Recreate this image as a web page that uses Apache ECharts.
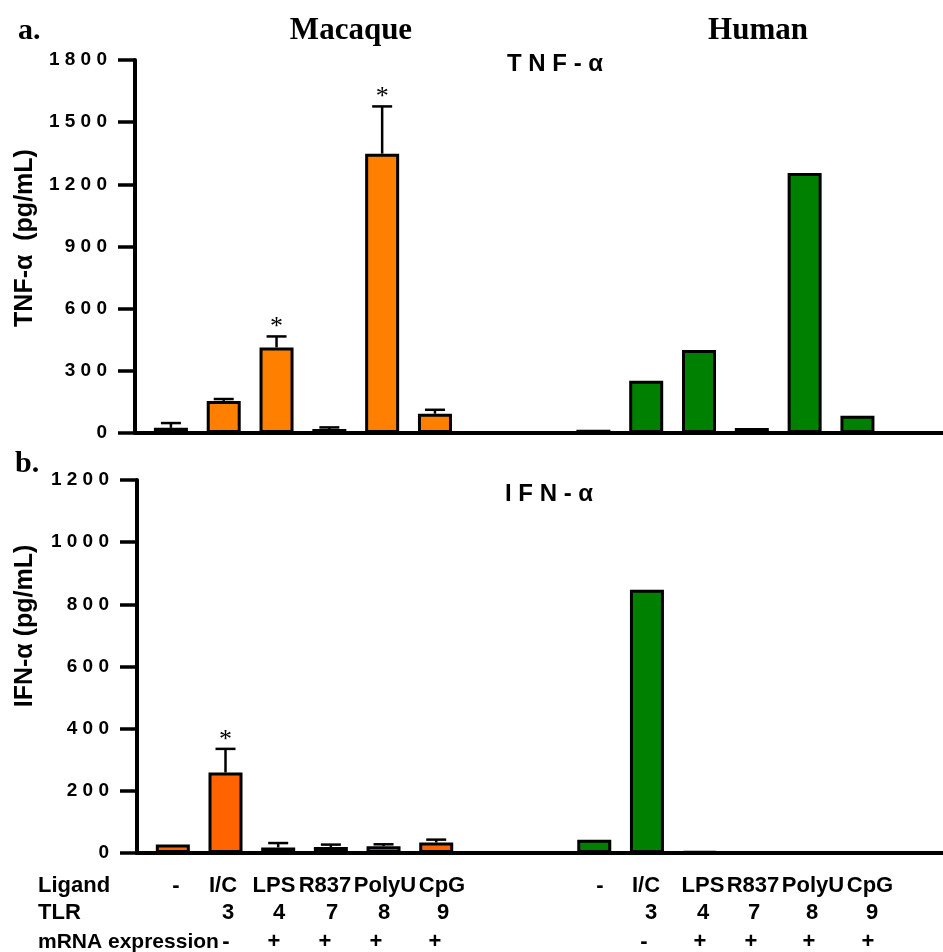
<!DOCTYPE html>
<html>
<head>
<meta charset="utf-8">
<script src="https://cdn.jsdelivr.net/npm/echarts@6/dist/echarts.min.js"></script>
<style>
html,body{margin:0;padding:0;background:#fff;}
#c{width:943px;height:952px;}
</style>
</head>
<body>
<div id="c"></div>
<script>
// ---------- DATA ----------
const ligands = ['-', 'I/C', 'LPS', 'R837', 'PolyU', 'CpG'];
const tlrs = ['', '3', '4', '7', '8', '9'];
const mrnaMacaque = ['', '-', '+', '+', '+', '+'];
const mrnaHuman = ['', '-', '+', '+', '+', '+'];
const xMacaque = [0, 1, 2, 3, 4, 5];
const xHuman = [8, 9, 10, 11, 12, 13];

const tnfMacaque = [25, 155, 413, 19, 1348, 93];
const tnfMacaqueErr = [23, 9, 53, 8, 228, 19];
const tnfMacaqueSig = [0, 0, 1, 0, 1, 0];
const tnfHuman = [16, 252, 400, 24, 1255, 83];

const ifnMacaque = [27, 259, 18, 19, 22, 34];
const ifnMacaqueErr = [0, 76, 14, 8, 6, 9];
const ifnMacaqueSig = [0, 1, 0, 0, 0, 0];
const ifnHuman = [43, 847, 5, 0, 0, 0];

const tnfTicks = [0, 1800, 300];
const ifnTicks = [0, 1200, 200];

// ---------- STYLE / LAYOUT ----------
const SANS = '"Liberation Sans", Arial, sans-serif';
const SERIF = '"Liberation Serif", "Times New Roman", serif';
const orangeTop = '#FF8000';
const orangeBottom = '#FF6400';
const green = '#008000';
const xMin = -0.68, xMax = 14.62;

function barData(xs, vals, color) {
  return vals.map((v, i) => v > 0 ? { value: [xs[i], v], itemStyle: { color: color } } : null).filter(d => d);
}
function errData(xs, vals, errs, sig) {
  return vals.map((v, i) => [xs[i], v, errs[i], sig[i]]);
}
function renderErr(params, api) {
  const x = api.value(0), v = api.value(1), e = api.value(2), s = api.value(3);
  const p0 = api.coord([x, v]);
  const p1 = api.coord([x, v + e]);
  const children = [];
  if (e > 0) {
    children.push({ type: 'line', shape: { x1: p0[0], y1: p0[1], x2: p1[0], y2: p1[1] }, style: { stroke: '#000', lineWidth: 2.5 } });
    children.push({ type: 'line', shape: { x1: p1[0] - 10, y1: p1[1], x2: p1[0] + 10, y2: p1[1] }, style: { stroke: '#000', lineWidth: 2.5 } });
  }
  if (s) {
    children.push({ type: 'text', x: p1[0], y: p1[1] + 4, style: { text: '*', font: '26px ' + SERIF, align: 'center', verticalAlign: 'bottom', textAlign: 'center', textVerticalAlign: 'bottom', fill: '#000' } });
  }
  return { type: 'group', children: children };
}
function spaced(v) { return String(v).split('').join(' '); }

function yAxis(gridIndex, t) {
  return {
    gridIndex: gridIndex, type: 'value', min: t[0], max: t[1], interval: t[2],
    position: 'left',
    axisLine: { show: true, onZero: false, lineStyle: { color: '#000', width: 4, opacity: 1 } },
    axisTick: { show: true, length: 17, lineStyle: { color: '#000', width: 3.5 } },
    axisLabel: { margin: 28, color: '#000', fontFamily: SANS, fontWeight: 'bold', fontSize: 19, formatter: spaced },
    splitLine: { show: false }
  };
}
function xAxis(gridIndex) {
  return {
    gridIndex: gridIndex, type: 'value', min: xMin, max: xMax, position: 'bottom',
    axisLine: { show: true, onZero: false, lineStyle: { color: '#000', width: 4, opacity: 1 } },
    axisTick: { show: false }, axisLabel: { show: false }, splitLine: { show: false }
  };
}

const chart = echarts.init(document.getElementById('c'));

const texts = [];
function txt(text, x, y, font, align, rot) {
  texts.push({
    type: 'text', x: x, y: y, rotation: rot || 0,
    style: { text: text, font: font, fill: '#000', textAlign: align || 'left', textVerticalAlign: 'middle', align: align || 'left', verticalAlign: 'middle' }
  });
}
txt('a.', 18, 31, 'bold 30px ' + SERIF);
txt('Macaque', 351, 31, 'bold 31px ' + SERIF, 'center');
txt('Human', 758, 31, 'bold 31px ' + SERIF, 'center');
txt('T N F - α', 507, 64, 'bold 24px ' + SANS);
txt('b.', 15, 464, 'bold 30px ' + SERIF);
txt('I F N - α', 505, 494, 'bold 24px ' + SANS);
txt('TNF-α  (pg/mL)', 25, 238, 'bold 25px ' + SANS, 'center', Math.PI / 2);
txt('IFN-α (pg/mL)', 25, 626, 'bold 25px ' + SANS, 'center', Math.PI / 2);

// bottom table
const rowY = [886, 913, 942];
const ligPx = [176, 223, 274, 325, 385, 442, 600, 646, 703, 753, 813, 870];
const tlrPx = [0, 228, 279, 332, 384, 443, 0, 651, 703, 754, 812, 872];
const mrnaPx = [0, 226, 274, 325, 376, 435, 0, 644, 700, 751, 809, 868];
txt('Ligand', 38, rowY[0], 'bold 22px ' + SANS);
txt('TLR', 38, rowY[1], 'bold 22px ' + SANS);
txt('mRNA expression', 38, rowY[2], 'bold 21px ' + SANS);
ligands.concat(ligands).forEach((l, i) => txt(l, ligPx[i], rowY[0], 'bold 22px ' + SANS, 'center'));
tlrs.concat(tlrs).forEach((l, i) => { if (l) txt(l, tlrPx[i], rowY[1], 'bold 22px ' + SANS, 'center'); });
mrnaMacaque.concat(mrnaHuman).forEach((l, i) => { if (l) txt(l, mrnaPx[i], rowY[2], 'bold 22px ' + SANS, 'center'); });

chart.setOption({
  backgroundColor: '#fff',
  animation: false,
  grid: [
    { left: 135, top: 60, width: 808, height: 373, containLabel: false, outerBoundsMode: 'none' },
    { left: 137, top: 480, width: 806, height: 373, containLabel: false, outerBoundsMode: 'none' }
  ],
  xAxis: [xAxis(0), xAxis(1)],
  yAxis: [yAxis(0, tnfTicks), yAxis(1, ifnTicks)],
  series: [
    { type: 'bar', xAxisIndex: 0, yAxisIndex: 0, barWidth: 34,
      itemStyle: { borderColor: '#000', borderWidth: 3 },
      data: barData(xMacaque, tnfMacaque, orangeTop).concat(barData(xHuman, tnfHuman, green)) },
    { type: 'custom', xAxisIndex: 0, yAxisIndex: 0, z: 5, renderItem: renderErr,
      data: errData(xMacaque, tnfMacaque, tnfMacaqueErr, tnfMacaqueSig) },
    { type: 'bar', xAxisIndex: 1, yAxisIndex: 1, barWidth: 34,
      itemStyle: { borderColor: '#000', borderWidth: 3 },
      data: barData(xMacaque, ifnMacaque, orangeBottom).concat(barData(xHuman, ifnHuman, green)) },
    { type: 'custom', xAxisIndex: 1, yAxisIndex: 1, z: 5, renderItem: renderErr,
      data: errData(xMacaque, ifnMacaque, ifnMacaqueErr, ifnMacaqueSig) }
  ],
  graphic: texts
});
</script>
</body>
</html>
